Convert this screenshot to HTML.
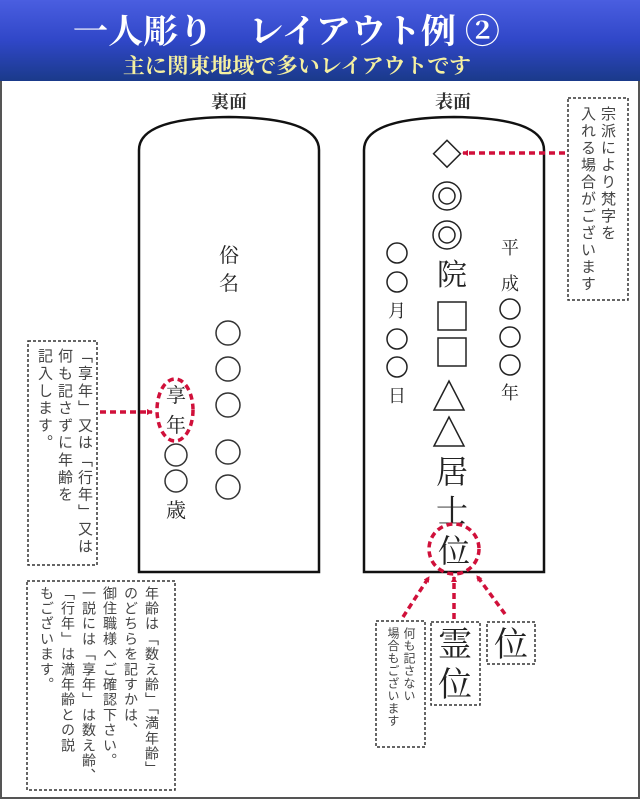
<!DOCTYPE html>
<html><head><meta charset="utf-8"><style>
html,body{margin:0;padding:0;background:#fff;}
svg{display:block;position:absolute;left:0;top:0;}
.m{font-family:"Noto Serif CJK SC","Noto Sans CJK JP",serif;fill:#222;}
.v{position:absolute;writing-mode:vertical-rl;font-family:"Liberation Sans","Noto Sans CJK JP",sans-serif;color:#444;white-space:nowrap;}
</style></head><body>
<svg width="640" height="800" viewBox="0 0 640 800" xmlns="http://www.w3.org/2000/svg">
<defs>
<linearGradient id="hd" x1="0" y1="0" x2="0" y2="1">
<stop offset="0" stop-color="#4a5ee0"/><stop offset="0.5" stop-color="#3047c8"/><stop offset="1" stop-color="#1a3a8a"/>
</linearGradient>
<marker id="ar" markerWidth="6" markerHeight="6" refX="5" refY="3" orient="auto" markerUnits="userSpaceOnUse"><path d="M0,0 L6,3 L0,6z" fill="#d0103a"/></marker>
</defs>
<rect x="0" y="0" width="640" height="800" fill="#fff"/>
<rect x="1" y="1" width="638" height="797" fill="none" stroke="#555" stroke-width="2"/>
<rect x="0" y="0" width="640" height="81" fill="url(#hd)"/>
<text x="73" y="43" textLength="427" lengthAdjust="spacingAndGlyphs" font-family="Noto Serif CJK SC,serif" font-weight="bold" font-size="34" fill="#fff">一人彫り　レイアウト例 ②</text>
<text x="123" y="73" textLength="348" lengthAdjust="spacingAndGlyphs" font-family="Noto Serif CJK SC,serif" font-weight="bold" font-size="21" fill="#f5f0a0">主に関東地域で多いレイアウトです</text>
<text x="229" y="108" text-anchor="middle" font-family="Noto Serif CJK SC,serif" font-weight="bold" font-size="18" fill="#333">裏面</text>
<text x="453" y="108" text-anchor="middle" font-family="Noto Serif CJK SC,serif" font-weight="bold" font-size="18" fill="#333">表面</text>
<path d="M139,572 L139,150 Q139,118 229,117 Q319,118 319,150 L319,572 Z" fill="#fff" stroke="#111" stroke-width="2.5"/>
<path d="M364,572 L364,150 Q364,118 454,117 Q544,118 544,150 L544,572 Z" fill="#fff" stroke="#111" stroke-width="2.5"/>
<g class="m" font-size="20" text-anchor="middle">
<text x="229" y="262">俗</text><text x="229" y="290">名</text>
<text x="176" y="402">享</text><text x="176" y="432">年</text>
<text x="176" y="517">歳</text>
</g>
<g fill="none" stroke="#333" stroke-width="1.5">
<circle cx="228" cy="333" r="12"/><circle cx="228" cy="369" r="12"/><circle cx="228" cy="405" r="12"/><circle cx="228" cy="452" r="12"/><circle cx="228" cy="487" r="12"/>
<circle cx="176" cy="455" r="11"/><circle cx="176" cy="481" r="11"/>
</g>
<ellipse cx="175" cy="410" rx="18" ry="31" fill="none" stroke="#d0103a" stroke-width="3.5" stroke-dasharray="6,4"/>
<line x1="100" y1="412" x2="152" y2="412" stroke="#d0103a" stroke-width="3.5" stroke-dasharray="6,4" marker-end="url(#ar)"/>
<g fill="none" stroke="#222" stroke-width="1.5">
<rect x="438" y="144" width="19" height="19" transform="rotate(45 447 153)"/>
<circle cx="447" cy="196" r="14"/><circle cx="447" cy="196" r="8"/>
<circle cx="447" cy="235" r="14"/><circle cx="447" cy="235" r="8"/>
<rect x="438" y="302" width="28" height="28"/><rect x="438" y="338" width="28" height="28"/>
<path d="M434,410 L449,381 L464,410 Z"/><path d="M434,446 L449,417 L464,446 Z"/>
<circle cx="397" cy="253" r="10"/><circle cx="397" cy="282" r="10"/><circle cx="397" cy="339" r="10"/><circle cx="397" cy="367" r="10"/>
<circle cx="510" cy="309" r="10"/><circle cx="510" cy="337" r="10"/><circle cx="510" cy="365" r="10"/>
</g>
<g class="m" text-anchor="middle">
<text x="452" y="285" font-size="30">院</text>
<text x="452" y="483" font-size="32">居</text>
<text x="452" y="522" font-size="32">士</text>
<text x="454" y="562" font-size="32">位</text>
<g font-size="18"><text x="397" y="317">月</text><text x="397" y="402">日</text>
<text x="510" y="254">平</text><text x="510" y="290">成</text><text x="510" y="399">年</text></g>
</g>
<circle cx="454" cy="549" r="25" fill="none" stroke="#d0103a" stroke-width="3.5" stroke-dasharray="6,4"/>
<line x1="565" y1="153" x2="463" y2="153" stroke="#d0103a" stroke-width="3.5" stroke-dasharray="6,4" marker-end="url(#ar)"/>
<line x1="403" y1="617" x2="429" y2="577" stroke="#d0103a" stroke-width="3.5" stroke-dasharray="6,4" marker-end="url(#ar)"/>
<line x1="454" y1="619" x2="454" y2="577" stroke="#d0103a" stroke-width="3.5" stroke-dasharray="6,4" marker-end="url(#ar)"/>
<line x1="505" y1="614" x2="477" y2="576" stroke="#d0103a" stroke-width="3.5" stroke-dasharray="6,4" marker-end="url(#ar)"/>
<g fill="#fff" stroke="#333" stroke-width="1.5" stroke-dasharray="3,2">
<rect x="568" y="98" width="60" height="202"/>
<rect x="28" y="341" width="69" height="224"/>
<rect x="27" y="581" width="148" height="209"/>
<rect x="376" y="621" width="49" height="126"/>
<rect x="431" y="622" width="49" height="83"/>
<rect x="487" y="622" width="48" height="42"/>
</g>
<g class="m" text-anchor="middle" font-size="34">
<text x="455" y="656">霊</text><text x="455" y="696">位</text>
<text x="511" y="656">位</text>
</g>
</svg>
<div class="v" style="left:577px;top:106px;height:190px;font-size:15px;line-height:20px;letter-spacing:2px;">宗派により梵字を<br>入れる場合がございます</div>
<div class="v" style="left:34px;top:348px;height:215px;font-size:15px;line-height:20px;letter-spacing:2.3px;">「享年」又は「行年」又は<br>何も記さずに年齢を<br>記入します。</div>
<div class="v" style="left:36px;top:586px;height:200px;font-size:14px;line-height:21px;letter-spacing:1.2px;">年齢は「数え齢」「満年齢」<br>のどちらを記すかは、<br>御住職様へご確認下さい。<br>一説には「享年」は数え齢、<br>「行年」は満年齢との説<br>もございます。</div>
<div class="v" style="left:385px;top:627px;height:118px;font-size:12px;line-height:16px;letter-spacing:0.5px;">何も記さない<br>場合もございます</div>
</body></html>
